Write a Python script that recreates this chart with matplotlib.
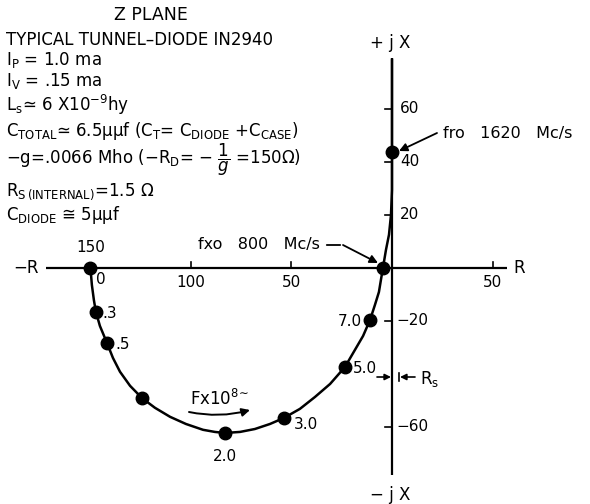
import matplotlib
matplotlib.use("Agg")
import matplotlib.pyplot as plt

plt.rcParams['font.family'] = ['DejaVu Sans']
plt.rcParams['mathtext.fontset'] = 'dejavusans'

# ---- data (R in ohms, X in ohms) ----
curve_R = [-150, -149.3, -148.3, -147.3, -145.3, -141.8, -138.8, -135.3, -130.3, -124.4,
           -117.9, -110.4, -102.5, -94.0, -88.1, -83.1, -75.6, -68.2, -60.7, -53.7,
           -45.8, -38.3, -30.8, -23.4, -18.4, -14.4, -10.9, -8.5, -6.5, -5.5,
           -4.5, -3.0, -1.5, -0.5, 0.0, 0.0, 0.0]
curve_X = [0, -6.4, -12.1, -16.6, -21.9, -28.3, -34.0, -39.2, -44.5, -49.1,
           -52.8, -56.2, -58.9, -61.1, -61.9, -62.3, -61.9, -60.8, -58.9, -56.6,
           -53.2, -48.7, -43.8, -37.4, -30.9, -25.7, -19.6, -14.0, -9.1, -4.5,
           0.0, 6.8, 12.5, 20.0, 29.4, 43.8, 78.5]

dot_R = [-150, -147.3, -141.8, -124.4, -83.1, -53.7, -23.4, -10.9, -4.5, 0.0]
dot_X = [0, -16.6, -28.3, -49.1, -62.3, -56.6, -37.4, -19.6, 0.0, 43.8]
dot_labels = ["0", ".3", ".5", "", "2.0", "3.0", "5.0", "7.0", "", ""]

xtick_vals = [-150, -100, -50, 50]
xtick_labels = ["150", "100", "50", "50"]
ytick_vals = [60, 40, 20, -20, -60]
ytick_labels = ["60", "40", "20", "\u221220", "\u221260"]

header_lines = [
    "TYPICAL TUNNEL\u2013DIODE IN2940",
    r"I$_\mathrm{P}$ = 1.0 ma",
    r"I$_\mathrm{V}$ = .15 ma",
    "L" + r"$_\mathrm{s}$" + "\u2243 6 X10" + r"$^{\mathrm{-9}}$" + "hy",
    "C" + r"$_\mathrm{TOTAL}$" + "\u2243 6.5\u03bc\u03bcf (C" + r"$_\mathrm{T}$" + "= C"
    + r"$_\mathrm{DIODE}$" + " +C" + r"$_\mathrm{CASE}$" + ")",
    "\u2212g=.0066 Mho (\u2212R" + r"$_\mathrm{D}$" + "= \u2212 " + r"$\dfrac{1}{g}$" + " =150\u03a9)",
    "R" + r"$_\mathrm{S\,(INTERNAL)}$" + "=1.5 \u03a9",
    "C" + r"$_\mathrm{DIODE}$" + " \u2245 5\u03bc\u03bcf",
]
header_baselines = [45, 65, 86, 111, 136, 164, 196, 220]

W, H = 590, 504
fig = plt.figure(figsize=(W / 100, H / 100), dpi=100)
ax = fig.add_axes([0, 0, 1, 1])
ax.set_xlim(-195.0, 98.5)
ax.set_ylim(-89.1, 101.1)
ax.axis('off')

K = 'black'


def T(x, y, s, size=12, ha='left', va='baseline', **kw):
    fig.text(x / W, 1 - y / H, s, fontsize=size, ha=ha, va=va, color=K, **kw)


def P(x, y):
    return (x, H - y)


# axes
ax.plot([-172, 57.2], [0, 0], color=K, lw=1.6, solid_capstyle='butt')
ax.plot([0, 0], [-78.1, 79.2], color=K, lw=1.6, solid_capstyle='butt')

# ticks
for v in xtick_vals[1:]:
    ax.plot([v, v], [0, 2.4], color=K, lw=1.2)
for v in ytick_vals:
    ax.plot([-3.5, 0], [v, v], color=K, lw=1.2)

# tick labels
ax.annotate(xtick_labels[0], xy=(xtick_vals[0], 0), xytext=(0, 9), textcoords='offset points',
            ha='center', va='bottom', fontsize=11)
for v, lab in zip(xtick_vals[1:], xtick_labels[1:]):
    ax.annotate(lab, xy=(v, 0), xytext=(0, -5), textcoords='offset points',
                ha='center', va='top', fontsize=11)
for v, lab in zip(ytick_vals, ytick_labels):
    dx = 6 if v > 0 else 3
    ax.annotate(lab, xy=(0, v), xytext=(dx, 0), textcoords='offset points',
                ha='left', va='center', fontsize=11)

# curve and dots
ax.plot(curve_R, curve_X, color=K, lw=1.8, solid_joinstyle='round')
ax.plot(dot_R, dot_X, 'o', color=K, ms=9)

# frequency labels
offsets = {"0": (4, -8, 'left'), ".3": (5, -1, 'left'), ".5": (6, -1, 'left'),
           "2.0": (0, -17, 'center'), "3.0": (7, -5, 'left'), "5.0": (6, -1, 'left'),
           "7.0": (-6, -1, 'right')}
for r, x, lab in zip(dot_R, dot_X, dot_labels):
    if lab:
        ox, oy, ha = offsets[lab]
        ax.annotate(lab, xy=(r, x), xytext=(ox, oy), textcoords='offset points',
                    ha=ha, va='center', fontsize=11)

# axis names
T(390, 48, "+ j X", size=12, ha='center')
T(390, 495, "\u2212 j X", size=12, ha='center', va='center')
T(26, 273, "\u2212R", size=12, ha='center')
T(519, 273, "R", size=12, ha='center')

# header
T(151, 20, "Z PLANE", size=12.5, ha='center')
for s, b in zip(header_lines, header_baselines):
    T(6, b, s, size=12)

# fxo annotation
T(320, 249, "fxo   800   Mc/s", size=11.5, ha='right')
ax.annotate("", xy=P(343, 245), xycoords='figure pixels', xytext=P(324, 245),
            textcoords='figure pixels', arrowprops=dict(arrowstyle='-', color=K, lw=1.3))
ax.annotate("", xy=P(378, 263), xycoords='figure pixels', xytext=P(343, 245),
            textcoords='figure pixels',
            arrowprops=dict(arrowstyle='-|>', color=K, lw=1.3, mutation_scale=12, shrinkA=0, shrinkB=0))

# fro annotation
T(443, 138, "fro   1620   Mc/s", size=11.5)
ax.annotate("", xy=P(399, 151), xycoords='figure pixels', xytext=P(437, 133),
            textcoords='figure pixels',
            arrowprops=dict(arrowstyle='-|>', color=K, lw=1.3, mutation_scale=12, shrinkA=0, shrinkB=0))

# F x 10^8 arrow
T(190, 405, r"Fx10$^{8\!\sim}$", size=12)
ax.annotate("", xy=P(250, 410), xycoords='figure pixels', xytext=P(189, 412),
            textcoords='figure pixels',
            arrowprops=dict(arrowstyle='-|>', color=K, lw=1.4, mutation_scale=12,
                            shrinkA=0, shrinkB=0, connectionstyle='arc3,rad=0.12'))

# Rs marker
ax.annotate("", xy=P(391, 377), xycoords='figure pixels', xytext=P(377, 377),
            textcoords='figure pixels',
            arrowprops=dict(arrowstyle='-|>', color=K, lw=1.2, mutation_scale=9, shrinkA=0, shrinkB=0))
ax.annotate("", xy=P(400, 377), xycoords='figure pixels', xytext=P(415, 377),
            textcoords='figure pixels',
            arrowprops=dict(arrowstyle='-|>', color=K, lw=1.2, mutation_scale=9, shrinkA=0, shrinkB=0))
ax.annotate("", xy=P(399, 370), xycoords='figure pixels', xytext=P(399, 384),
            textcoords='figure pixels', arrowprops=dict(arrowstyle='-', color=K, lw=1.2))
T(420, 384, r"R$_\mathrm{s}$", size=12)

fig.savefig("out.png", dpi=100)
